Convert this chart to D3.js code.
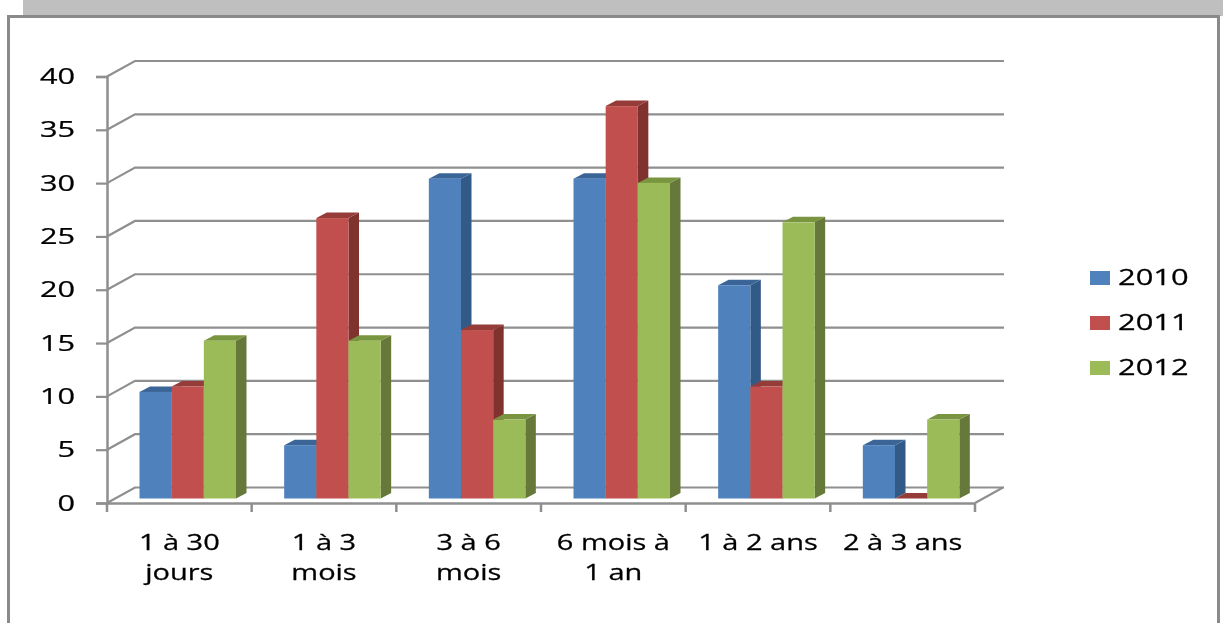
<!DOCTYPE html>
<html>
<head>
<meta charset="utf-8">
<script src="https://cdn.jsdelivr.net/npm/d3@7"></script>
<style>
  html, body { margin: 0; padding: 0; background: #fff; overflow: hidden; }
  svg { display: block; }
  text { font-family: "Open Sans", sans-serif; fill: #000; stroke: #000; stroke-width: 0.25px; }
</style>
</head>
<body>
<div id="chart"></div>
<script>
// Values
var categories = ["1 à 30 jours", "1 à 3 mois", "3 à 6 mois", "6 mois à 1 an", "1 à 2 ans", "2 à 3 ans"];
var categoryLines = [["1 à 30", "jours"], ["1 à 3", "mois"], ["3 à 6", "mois"], ["6 mois à", "1 an"], ["1 à 2 ans"], ["2 à 3 ans"]];
var seriesNames = ["2010", "2011", "2012"];
var values2010 = [10, 5, 30, 30, 20, 5];
var values2011 = [10.5, 26.3, 15.8, 36.8, 10.5, 0];
var values2012 = [14.8, 14.8, 7.4, 29.6, 25.9, 7.4];
var yTicks = [0, 5, 10, 15, 20, 25, 30, 35, 40];

var seriesValues = [values2010, values2011, values2012];
var frontColors = ["#4f81bd", "#c0504d", "#9bbb59"];
var topColors = ["#3b6596", "#953b39", "#7a9540"];
var sideColors = ["#335a87", "#7f302e", "#66793a"];

var svgWidth = 1223;
var svgHeight = 623;

var svgRoot = d3.select("#chart")
    .append("svg")
    .attr("width", svgWidth)
    .attr("height", svgHeight);

// The reference is a soft, upscaled picture
svgRoot.append("defs").append("filter")
    .attr("id", "soft")
    .attr("filterUnits", "userSpaceOnUse")
    .attr("x", 0).attr("y", 0).attr("width", svgWidth).attr("height", svgHeight)
    .append("feGaussianBlur")
    .attr("stdDeviation", 0.5);

var svg = svgRoot.append("g").attr("filter", "url(#soft)");

// Grey band and frame of the pasted picture
svg.append("rect").attr("x", 23).attr("y", 0).attr("width", 1200).attr("height", 16).attr("fill", "#bfbfbf");
svg.append("rect").attr("x", 8.5).attr("y", 16.5).attr("width", 1210).attr("height", 620)
    .attr("fill", "#fff").attr("stroke", "#8a8a8a").attr("stroke-width", 3);

// Scales
var x = d3.scaleBand().domain(categories).range([107, 975]);
var y = d3.scaleLinear().domain([0, 40]).range([503, 76.5]);
var xBar = d3.scaleBand().domain(seriesNames).range([32.5, 129]);

// Offset of the back wall, and of the bar depth
var wallX = 28, wallY = -15.5;
var depthX = 10.5, depthY = -5.5;
var floorGap = 4.5;
var lineColor = "#8f8f8f";

// Walls: gridlines run along the diagonal then to the back
var wall = svg.append("g");
wall.selectAll("path")
  .data(yTicks)
  .enter()
  .append("path")
  .attr("d", d => `M107,${y(d)}L${107 + wallX},${y(d) + wallY}L${975 + wallX + 1},${y(d) + wallY}`)
  .attr("fill", "none")
  .attr("stroke", lineColor)
  .attr("stroke-width", 2.2);
wall.append("line")
  .attr("x1", 975).attr("y1", y(0))
  .attr("x2", 975 + wallX).attr("y2", y(0) + wallY)
  .attr("stroke", lineColor)
  .attr("stroke-width", 2.2);

// Axes
var leftAxis = d3.axisLeft(y).tickValues(yTicks).tickSize(11).tickPadding(0);
var yAxis = svg.append("g").attr("transform", "translate(107,0)").call(leftAxis);

var bottomAxis = d3.axisBottom(x).tickValues([]).tickSize(0);
var xAxis = svg.append("g").attr("transform", `translate(0,${y(0)})`).call(bottomAxis);

svg.selectAll(".domain").attr("stroke", lineColor).attr("stroke-width", 2.5);
yAxis.selectAll("line").attr("stroke", lineColor).attr("stroke-width", 2.2);

yAxis.selectAll("text")
  .attr("x", null)
  .attr("dy", null)
  .attr("text-anchor", "end")
  .attr("transform", "translate(-32,7) scale(1.46,1)")
  .style("font-size", "21px")
  .style("font-family", '"Open Sans", sans-serif');

// Category separators on the x axis
var separators = categories.map(d => x(d)).concat([975]);
xAxis.selectAll("line.sep")
  .data(separators)
  .enter()
  .append("line")
  .attr("class", "sep")
  .attr("x1", d => d).attr("x2", d => d)
  .attr("y1", 0).attr("y2", 9)
  .attr("stroke", lineColor)
  .attr("stroke-width", 2.5);

// Bars, left to right so the next front face covers the side face
var bars = svg.append("g");
categories.forEach(function(cat, c) {
  seriesNames.forEach(function(name, s) {
    var v = seriesValues[s][c];
    var left = x(cat) + xBar(name);
    var right = left + xBar.bandwidth();
    var bottom = y(0) - floorGap;
    var top = y(v) - floorGap;
    var g = bars.append("g");
    g.append("path")
      .attr("d", `M${right},${top}L${right + depthX},${top + depthY}L${right + depthX},${bottom + depthY}L${right},${bottom}Z`)
      .attr("fill", sideColors[s]);
    g.append("path")
      .attr("d", `M${left},${top}L${left + depthX},${top + depthY}L${right + depthX},${top + depthY}L${right},${top}Z`)
      .attr("fill", topColors[s]);
    g.append("rect")
      .attr("x", left).attr("y", top)
      .attr("width", xBar.bandwidth()).attr("height", bottom - top)
      .attr("fill", frontColors[s]);
  });
});

// Category labels
var labels = svg.append("g");
categories.forEach(function(cat, c) {
  categoryLines[c].forEach(function(line, i) {
    labels.append("text")
      .attr("text-anchor", "middle")
      .attr("transform", `translate(${x(cat) + x.bandwidth() / 2},${550 + i * 30}) scale(1.38,1)`)
      .style("font-size", "21px")
      .text(line);
  });
});

// Legend
var legendY = d3.scalePoint().domain(seriesNames).range([278, 368]);
var legend = svg.append("g");
seriesNames.forEach(function(name, s) {
  legend.append("rect")
    .attr("x", 1090).attr("y", legendY(name) - 7)
    .attr("width", 20).attr("height", 14)
    .attr("fill", frontColors[s]);
  legend.append("text")
    .attr("transform", `translate(1118,${legendY(name) + 7}) scale(1.47,1)`)
    .style("font-size", "21px")
    .text(name);
});
</script>
</body>
</html>
